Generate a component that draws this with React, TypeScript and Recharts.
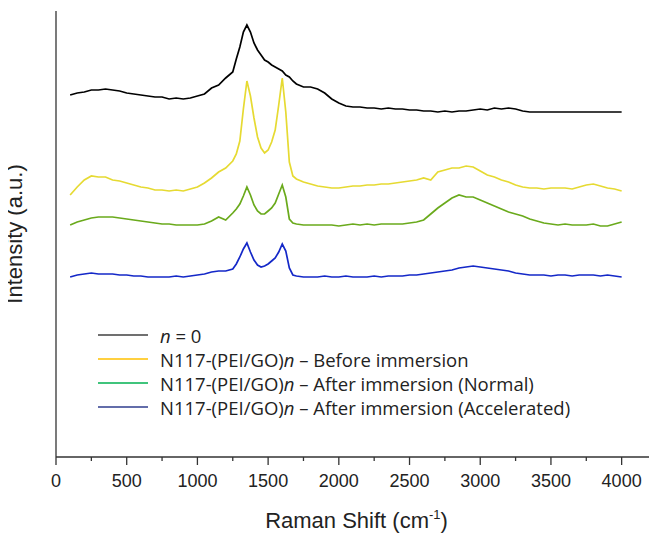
import React from 'react';
import { LineChart, Line, XAxis, YAxis, Legend, Label } from 'recharts';

// Raman shift (cm-1), finer steps around the D and G bands
const shift = [
  100, 150, 200, 250, 300, 350, 400, 450, 500, 550, 600, 650, 700, 750, 800, 850, 900, 950, 1000, 1050, 1100, 1150, 1200, 1250,
  1275, 1300, 1325, 1350, 1375, 1400, 1425, 1450, 1475, 1500, 1525, 1550, 1575, 1600, 1625, 1650, 1675, 1700,
  1750, 1800, 1850, 1900, 1950, 2000, 2050, 2100, 2150, 2200, 2250, 2300, 2350, 2400, 2450, 2500, 2550, 2600, 2650, 2700,
  2750, 2800, 2850, 2900, 2950, 3000, 3050, 3100, 3150, 3200, 3250, 3300, 3350, 3400, 3450, 3500, 3550, 3600, 3650, 3700,
  3750, 3800, 3850, 3900, 3950, 4000,
];

// intensities (a.u., stacked with offsets as in the figure)
const n0 = [
  402, 404, 405, 407, 407, 408, 407, 406, 404, 403, 402, 401, 400, 400, 398, 399, 398, 399, 401, 403, 409, 412, 419, 425,
  438, 450, 465, 472, 465, 454, 447, 442, 437, 435, 432, 430, 428, 426, 422, 420, 416, 413,
  410, 410, 408, 404, 398, 394, 391, 390, 390, 389, 389, 388, 389, 388, 388, 387, 387, 386, 386, 385,
  386, 385, 386, 386, 387, 388, 387, 389, 388, 389, 388, 386, 385, 385, 385, 385, 385, 385, 385, 385,
  385, 385, 385, 385, 385, 385,
];
const before = [
  302, 310, 317, 321, 320, 320, 317, 316, 314, 312, 310, 309, 307, 307, 306, 307, 306, 308, 310, 314, 319, 325, 329, 336,
  343, 356, 388, 416, 401, 379, 360, 349, 344, 347, 355, 367, 392, 419, 385, 335, 321, 318,
  315, 313, 311, 310, 309, 309, 310, 311, 311, 312, 312, 313, 313, 314, 315, 316, 317, 319, 317, 325,
  327, 329, 329, 331, 330, 326, 322, 320, 317, 315, 312, 310, 309, 309, 308, 309, 309, 309, 308, 310,
  312, 313, 311, 309, 308, 306,
];
const normal = [
  272, 275, 277, 279, 280, 280, 280, 279, 278, 277, 276, 275, 274, 273, 273, 272, 272, 272, 272, 273, 276, 280, 277, 284,
  288, 293, 301, 310, 302, 292, 286, 283, 283, 286, 289, 294, 303, 312, 300, 278, 274, 273,
  272, 272, 272, 272, 272, 271, 272, 273, 272, 273, 272, 273, 273, 273, 273, 274, 275, 277, 283, 289,
  294, 299, 302, 300, 300, 297, 294, 291, 288, 285, 283, 281, 278, 276, 274, 273, 272, 273, 272, 272,
  272, 273, 271, 271, 273, 275,
];
const accelerated = [
  220, 222, 223, 224, 223, 223, 223, 222, 222, 221, 221, 220, 220, 220, 220, 221, 220, 221, 222, 223, 225, 226, 226, 228,
  233, 240, 248, 254, 245, 237, 232, 230, 231, 233, 236, 239, 245, 253, 246, 229, 222, 221,
  220, 220, 220, 221, 220, 220, 221, 220, 220, 220, 221, 220, 221, 221, 221, 222, 222, 223, 224, 225,
  226, 227, 229, 230, 231, 230, 229, 228, 227, 226, 224, 223, 222, 222, 222, 221, 222, 222, 221, 222,
  222, 222, 221, 222, 221, 220,
];

const xTicks = [0, 250, 500, 750, 1000, 1250, 1500, 1750, 2000, 2250, 2500, 2750, 3000, 3250, 3500, 3750, 4000];

const data = shift.map((s, i) => ({
  shift: s,
  n0: n0[i],
  before: before[i],
  normal: normal[i],
  accelerated: accelerated[i],
}));

const series = [
  { key: 'n0', color: '#000000', legendColor: '#404040', prefix: '', italic: 'n', suffix: ' = 0' },
  { key: 'before', color: '#e6da32', legendColor: '#ffc000', prefix: 'N117-(PEI/GO)', italic: 'n', suffix: ' \u2013 Before immersion' },
  { key: 'normal', color: '#6aaa1c', legendColor: '#00b050', prefix: 'N117-(PEI/GO)', italic: 'n', suffix: ' \u2013 After immersion (Normal)' },
  { key: 'accelerated', color: '#1428c8', legendColor: '#2f3c8e', prefix: 'N117-(PEI/GO)', italic: 'n', suffix: ' \u2013 After immersion (Accelerated)' },
];

const AXIS = '#333';
const SANS = '"Liberation Sans", Arial, sans-serif';

const ShiftTick = (props: any) => {
  const { x, y, payload } = props;
  const major = payload.value % 500 === 0;
  return (
    <g>
      <line x1={x} x2={x} y1={y} y2={y + (major ? 8 : 4)} stroke={AXIS} strokeWidth={1.3} />
      {major && (
        <text x={x} y={y + 30} textAnchor="middle" fontSize={18} fill="#222" fontFamily={SANS}>
          {payload.value}
        </text>
      )}
    </g>
  );
};

const XTitle = (props: any) => {
  const { x, y, width } = props.viewBox;
  return (
    <text x={x + width / 2} y={y + 71} textAnchor="middle" fontSize={22} fill="#222" fontFamily={SANS}>
      <tspan>Raman Shift (cm</tspan>
      <tspan dy={-9} fontSize={13}>-1</tspan>
      <tspan dy={9}>)</tspan>
    </text>
  );
};

const YTitle = (props: any) => {
  const { y, height } = props.viewBox;
  const cx = 22;
  const cy = y + height / 2;
  return (
    <text x={cx} y={cy} textAnchor="middle" fontSize={22} fill="#222" fontFamily={SANS} transform={`rotate(-90, ${cx}, ${cy})`}>
      Intensity (a.u.)
    </text>
  );
};

const LegendBox = () => (
  <div style={{ fontFamily: '"Open Sans", sans-serif', fontSize: 18.5, color: '#222' }}>
    {series.map((s) => (
      <div key={s.key} style={{ display: 'flex', alignItems: 'center', height: 24, whiteSpace: 'nowrap' }}>
        <svg width={62} height={24}>
          <line x1={0} x2={50} y1={12} y2={12} stroke={s.legendColor} strokeWidth={1.6} />
        </svg>
        <span>
          {s.prefix}
          <i>{s.italic}</i>
          {s.suffix}
        </span>
      </div>
    ))}
  </div>
);

export default function App() {
  return (
    <div style={{ width: 657, height: 534, position: 'relative', margin: '-8px 0 0 -8px' }}>
      <LineChart width={657} height={534} data={data} margin={{ top: 11, right: 0, bottom: 0, left: 0 }}>
        <XAxis
          dataKey="shift"
          type="number"
          domain={[0, 4250]}
          ticks={xTicks}
          interval={0}
          height={77}
          tickSize={0}
          tickMargin={0}
          tickLine={false}
          tick={<ShiftTick />}
          axisLine={{ stroke: AXIS, strokeWidth: 1.3 }}
        >
          <Label content={<XTitle />} />
        </XAxis>
        <XAxis
          xAxisId="top"
          orientation="top"
          type="number"
          domain={[0, 4250]}
          height={0}
          tick={false}
          tickLine={false}
          axisLine={{ stroke: AXIS, strokeWidth: 1.3 }}
        />
        <YAxis
          type="number"
          domain={[40, 486]}
          width={56}
          tick={false}
          tickLine={false}
          axisLine={{ stroke: AXIS, strokeWidth: 1.3 }}
        >
          <Label content={<YTitle />} />
        </YAxis>
        <Legend
          layout="vertical"
          align="center"
          verticalAlign="middle"
          content={<LegendBox />}
          wrapperStyle={{ left: 98, top: 323, width: 480 }}
        />
        {series.map((s) => (
          <Line
            key={s.key}
            type="linear"
            dataKey={s.key}
            stroke={s.color}
            strokeWidth={1.7}
            dot={false}
            isAnimationActive={false}
          />
        ))}
      </LineChart>
    </div>
  );
}
